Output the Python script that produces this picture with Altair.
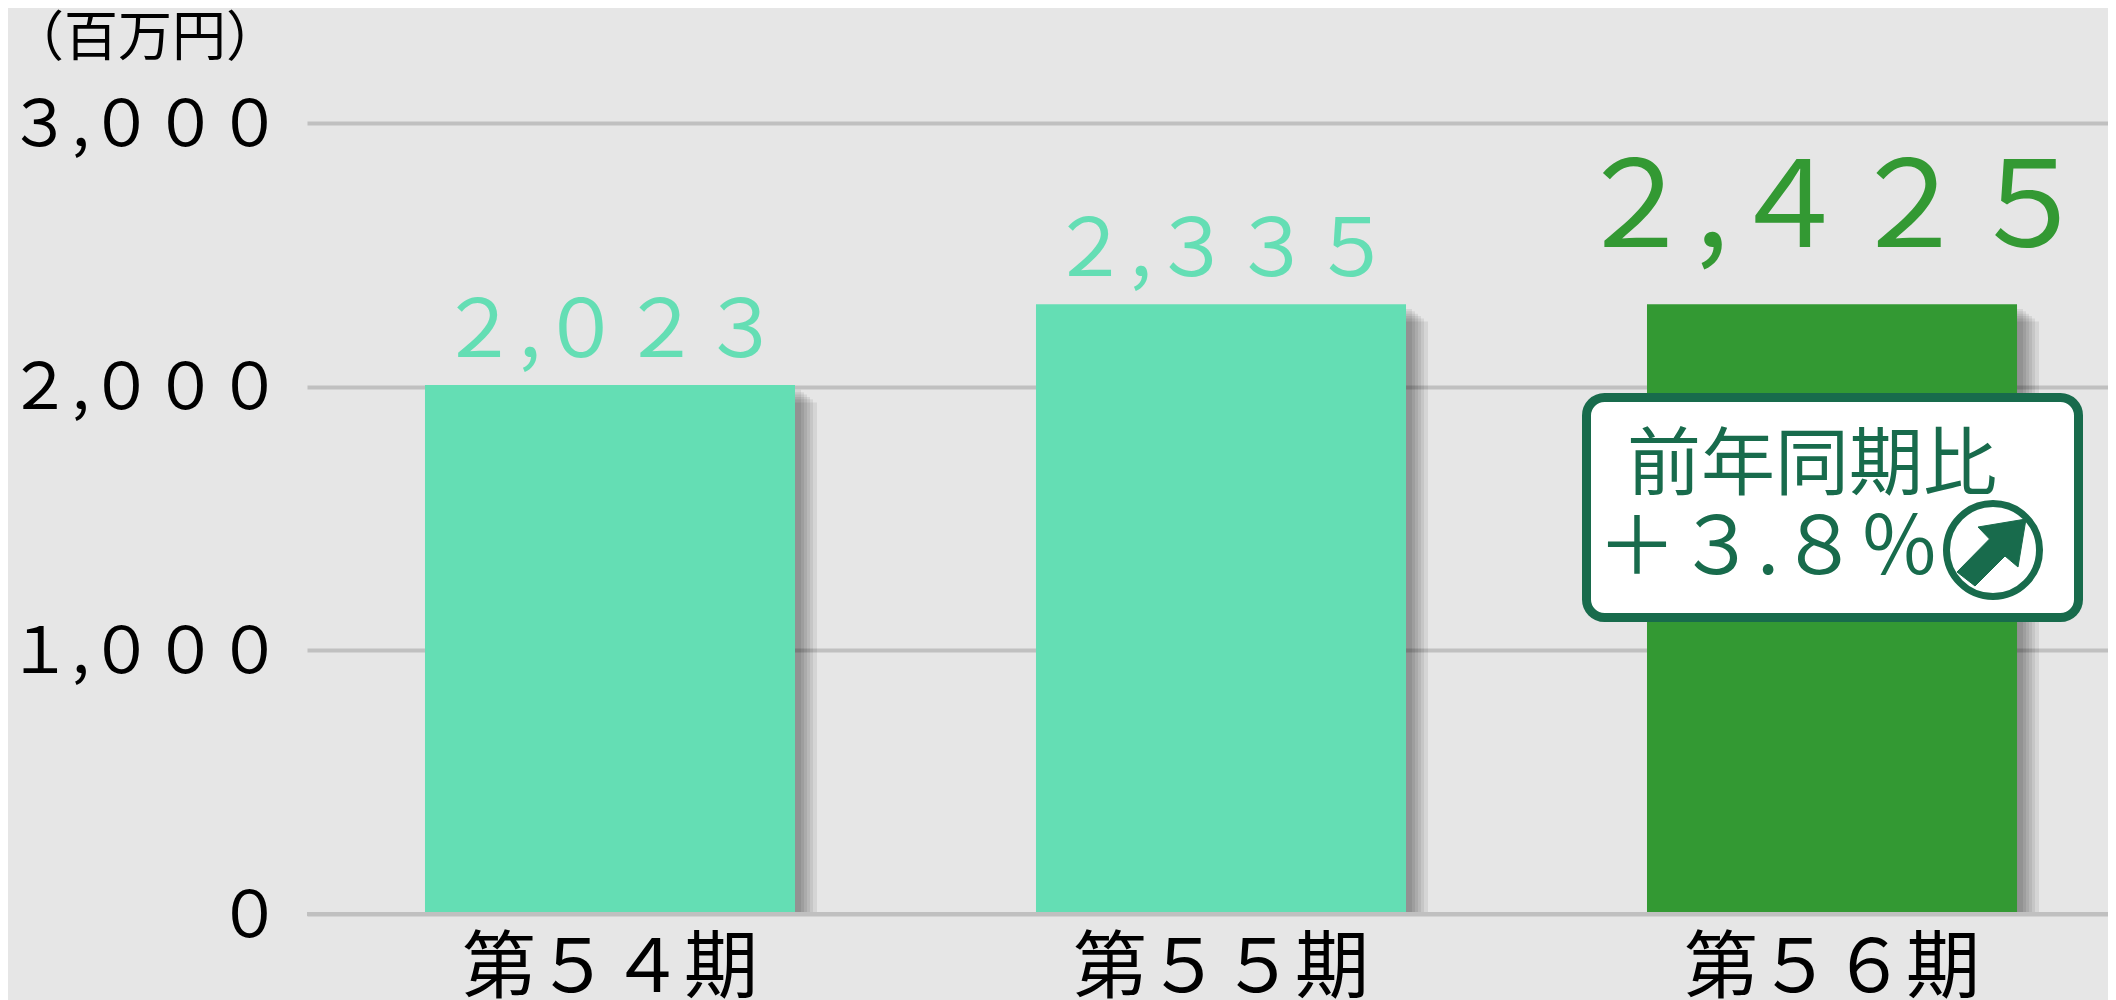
import altair as alt
import pandas as pd

FONT = "Noto Sans CJK JP"
BG = "#e6e6e6"
GRID = "#c0c0c0"
LIGHT = "#64deb4"
DARK = "#339933"
BOX = "#186b4c"

periods = ["第５４期", "第５５期", "第５６期"]
bar_tops = [2006, 2313, 2313]
value_labels = ["２,０２３", "２,３３５", "２,４２５"]
bar_colors = [LIGHT, LIGHT, DARK]
y_ticks = [0, 1000, 2000, 3000]
y_tick_labels = ["０", "１,０００", "２,０００", "３,０００"]
shadow_steps = [6, 9, 12, 15, 18, 22]

df = pd.DataFrame({"period": periods, "top": bar_tops, "label": value_labels, "color": bar_colors})

x = alt.X("period:N", sort=periods, title=None,
          scale=alt.Scale(paddingInner=0.3944, paddingOuter=0.171, align=0.5646),
          axis=alt.Axis(labelFont=FONT, labelFontSize=74, labelColor="black", labelAngle=0,
                        labelPadding=19, labelLimit=1000, domain=False, ticks=False, grid=False))
label_expr = " : ".join(
    f"datum.value == {v} ? '{t}'" for v, t in zip(y_ticks, y_tick_labels)) + " : ''"
y_scale = alt.Scale(domain=[0, 3000], nice=False)
y_axis = alt.Axis(values=y_ticks, labelExpr=label_expr, labelFont=FONT, labelFontSize=64,
                  labelColor="black", labelPadding=26, labelLimit=1000, labelOffset=3,
                  domain=False, ticks=False, grid=True, gridColor=GRID, gridWidth=4)
y = alt.Y("top:Q", title=None, scale=y_scale, axis=y_axis)

layers = []
for k in shadow_steps:
    layers.append(
        alt.Chart(df).transform_calculate(s=f"datum.top - {k * 3.0}")
        .mark_bar(color="black", opacity=0.07, xOffset=k)
        .encode(x=x, y=alt.Y("s:Q", axis=y_axis, title=None, scale=y_scale))
    )

bars = alt.Chart(df).mark_bar().encode(x=x, y=y, color=alt.Color("color:N", scale=None))
layers.append(bars)

baseline = alt.Chart(pd.DataFrame({"v": [0]})).mark_rule(color=GRID, strokeWidth=4).encode(
    y=alt.Y("v:Q", axis=y_axis, title=None, scale=y_scale))
layers.append(baseline)

small = alt.Chart(df[df.color == LIGHT]).mark_text(
    font=FONT, fontSize=80, baseline="alphabetic", dy=-28, color=LIGHT
).encode(x=x, y=y, text="label:N")
big = alt.Chart(df[df.color == DARK]).mark_text(
    font=FONT, fontSize=120, baseline="alphabetic", dy=-57, color=DARK
).encode(x=x, y=y, text="label:N")
layers += [small, big]

one = pd.DataFrame({"a": [1]})


def note(text, px, py, size, color, align="left"):
    return alt.Chart(one).mark_text(
        text=text, font=FONT, fontSize=size, color=color, align=align, baseline="middle"
    ).encode(x=alt.value(px), y=alt.value(py))


layers.append(note("（百万円）", -297, -83, 54, "black"))

box = alt.Chart(one).mark_rect(
    fill="white", stroke=BOX, strokeWidth=9, cornerRadius=18
).encode(x=alt.value(1279.5), x2=alt.value(1771.5), y=alt.value(274.5), y2=alt.value(494.5))
layers.append(box)
layers.append(note("前年同期比", 1505, 344, 74, BOX, "center"))
layers.append(note("＋３.８％", 1290, 427, 80, BOX))

ring = alt.Chart(one).mark_point(
    shape="circle", size=8650, filled=False, stroke=BOX, strokeWidth=7, opacity=1
).encode(x=alt.value(1686), y=alt.value(427))
arrow_path = "M0.66 -0.62 L-0.30 -0.46 L-0.07 -0.22 L-0.72 0.44 L-0.36 0.72 L0.24 0.12 L0.50 0.34 Z"
arrow = alt.Chart(one).mark_point(
    shape=arrow_path, size=10000, filled=True, fill=BOX, stroke=BOX, strokeWidth=1, opacity=1
).encode(x=alt.value(1686), y=alt.value(427))
layers += [ring, arrow]

chart = alt.layer(*layers).properties(
    width=1801, height=791, background=BG,
    autosize=alt.AutoSizeParams(type="none"),
    padding={"left": 299, "top": 115, "right": 0, "bottom": 86},
).configure_view(stroke=None)

chart.save("out.html", embed_options={"renderer": "svg", "actions": False})
